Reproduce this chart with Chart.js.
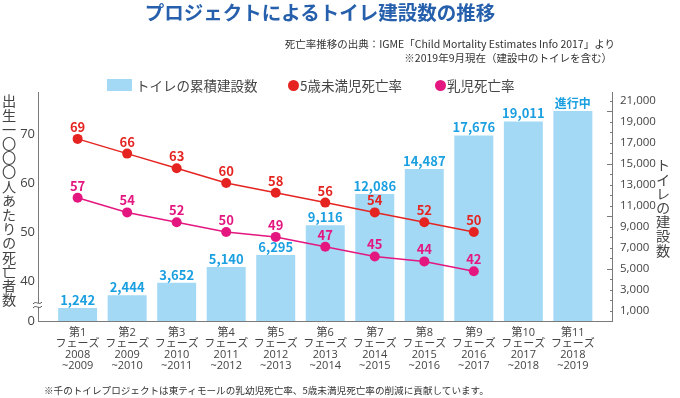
<!DOCTYPE html>
<html lang="ja">
<head>
<meta charset="utf-8">
<script src="https://cdn.jsdelivr.net/npm/chart.js@4.4.1/dist/chart.umd.min.js"></script>
<style>
  html, body { margin: 0; padding: 0; background: #fff; }
  body { width: 680px; height: 398px; position: relative; overflow: hidden;
         font-family: "Noto Sans CJK JP", "Noto Sans", sans-serif; color: #444; }
  #chart { position: absolute; left: 0; top: 0; }
  .abs { position: absolute; white-space: nowrap; }
  .title { left: 0; width: 640px; top: 0; text-align: center; font-size: 19.5px; line-height: 24px;
           font-weight: bold; color: #2660ac; }
  .src { right: 65px; font-size: 10.5px; line-height: 13px; color: #333; text-align: right; }
  .legend { top: 77px; font-size: 13.5px; line-height: 16px; color: #444; }
  .box { position: absolute; top: 79px; left: 107px; width: 25px; height: 12px; background: #a3d9f5; }
  .dot { position: absolute; top: 80px; width: 11px; height: 11px; border-radius: 50%; }
  .vtitle { writing-mode: vertical-rl; text-orientation: upright; font-size: 14.2px; line-height: 16px; color: #444; }
  .foot { left: 44px; top: 384px; font-size: 9.6px; line-height: 13px; color: #333; }
</style>
</head>
<body>
<canvas id="chart" width="680" height="398"></canvas>

<div class="abs title">プロジェクトによるトイレ建設数の推移</div>
<div class="abs src" style="top:37px">死亡率推移の出典：IGME「Child Mortality Estimates Info 2017」より</div>
<div class="abs src" style="top:51px; right:68px">※2019年9月現在（建設中のトイレを含む）</div>

<div class="box"></div>
<div class="abs legend" style="left:136px">トイレの累積建設数</div>
<div class="dot" style="left:288px; background:#e52421"></div>
<div class="abs legend" style="left:300px">5歳未満児死亡率</div>
<div class="dot" style="left:435px; background:#e4167f"></div>
<div class="abs legend" style="left:447px">乳児死亡率</div>

<div class="abs vtitle" style="left:1px; top:94px">出生一〇〇〇人あたりの死亡者数</div>
<div class="abs vtitle" style="left:655px; top:158px">トイレの建設数</div>

<div class="abs foot">※千のトイレプロジェクトは東ティモールの乳幼児死亡率、5歳未満児死亡率の削減に貢献しています。</div>

<script>
// Data
const phases = ['第1', '第2', '第3', '第4', '第5', '第6', '第7', '第8', '第9', '第10', '第11'];
const periods = [
  ['2008', '~2009'], ['2009', '~2010'], ['2010', '~2011'], ['2011', '~2012'],
  ['2012', '~2013'], ['2013', '~2014'], ['2014', '~2015'], ['2015', '~2016'],
  ['2016', '~2017'], ['2017', '~2018'], ['2018', '~2019']
];
const toilets = [1242, 2444, 3652, 5140, 6295, 9116, 12086, 14487, 17676, 19011, 20000];
const toiletNotes = [null, null, null, null, null, null, null, null, null, null, '進行中'];
const under5 = [69, 66, 63, 60, 58, 56, 54, 52, 50];
const infant = [57, 54, 52, 50, 49, 47, 45, 44, 42];
const leftTicks = [40, 50, 60, 70];
const rightTicks = [1000, 3000, 5000, 7000, 9000, 11000, 13000, 15000, 17000, 19000, 21000];

const BLUE_BAR = '#a3d9f5';
const BLUE_TXT = '#1a9fe0';
const RED = '#e52421';
const MAGENTA = '#e4167f';
const AXIS = '#7a7a7a';
const LEFT_MIN = 31.84;
const TICK_FONT = '"Open Sans", "Noto Sans CJK JP", sans-serif';

const xLabels = phases.map((p, i) => [p, 'フェーズ', periods[i][0], periods[i][1]]);
const toXY = arr => arr.map((v, i) => ({ x: i, y: v }));

// Value labels above bars and points
const valueLabels = {
  id: 'valueLabels',
  afterDatasetsDraw(chart) {
    const ctx = chart.ctx;
    ctx.save();
    ctx.textAlign = 'center';
    ctx.textBaseline = 'middle';
    chart.data.datasets.forEach((ds, di) => {
      const meta = chart.getDatasetMeta(di);
      meta.data.forEach((el, i) => {
        if (ds.type === 'bar') {
          const note = toiletNotes[i];
          ctx.font = note ? 'bold 12px "Noto Sans CJK JP"' : 'bold 13px "Noto Sans CJK JP"';
          ctx.fillStyle = BLUE_TXT;
          ctx.fillText(note || toilets[i].toLocaleString('en-US'), el.x, el.y - 8);
        } else {
          ctx.font = 'bold 13px "Noto Sans CJK JP"';
          ctx.fillStyle = ds.borderColor;
          ctx.fillText(ds.data[i].y, el.x, el.y - 12);
        }
      });
    });
    ctx.restore();
  }
};

// Axis break on the left axis and inward tick marks on the right axis
const axisExtras = {
  id: 'axisExtras',
  afterDraw(chart) {
    const ctx = chart.ctx;
    const area = chart.chartArea;
    const y2 = chart.scales.y2;
    ctx.save();
    ctx.strokeStyle = AXIS;
    ctx.lineWidth = 1;
    for (let v = 1000; v <= 21000; v += 1000) {
      const py = Math.round(y2.getPixelForValue(v)) + 0.5;
      const len = v % 5000 === 0 ? 5 : 2;
      ctx.beginPath();
      ctx.moveTo(area.right, py);
      ctx.lineTo(area.right - len, py);
      ctx.stroke();
    }
    // break mark
    const bx = area.left, by = 305;
    ctx.fillStyle = '#fff';
    ctx.fillRect(bx - 3, by - 2, 6, 4);
    ctx.strokeStyle = '#555';
    [-2, 2].forEach(off => {
      ctx.beginPath();
      ctx.moveTo(bx - 5, by + off + 1);
      ctx.bezierCurveTo(bx - 2, by + off - 3, bx + 1, by + off + 3, bx + 4, by + off - 1);
      ctx.stroke();
    });
    ctx.restore();
  }
};

new Chart(document.getElementById('chart'), {
  type: 'bar',
  data: {
    datasets: [
      {
        type: 'line', label: '5歳未満児死亡率', data: toXY(under5), yAxisID: 'y',
        borderColor: RED, backgroundColor: RED, borderWidth: 1.5,
        pointRadius: 5, pointBorderWidth: 0, pointBackgroundColor: RED, order: 0
      },
      {
        type: 'line', label: '乳児死亡率', data: toXY(infant), yAxisID: 'y',
        borderColor: MAGENTA, backgroundColor: MAGENTA, borderWidth: 1.5,
        pointRadius: 5, pointBorderWidth: 0, pointBackgroundColor: MAGENTA, order: 0
      },
      {
        type: 'bar', label: 'トイレの累積建設数', data: toXY(toilets), yAxisID: 'y2',
        backgroundColor: BLUE_BAR, borderWidth: 0,
        barPercentage: 0.787, categoryPercentage: 1, order: 1
      }
    ]
  },
  options: {
    responsive: false,
    animation: false,
    layout: { padding: { top: 92, left: 0, right: 0, bottom: 0 } },
    plugins: { legend: { display: false }, tooltip: { enabled: false } },
    scales: {
      x: {
        type: 'linear', min: -0.8, max: 10.79, offset: false,
        afterBuildTicks: s => { s.ticks = phases.map((_, i) => ({ value: i })); },
        afterFit: s => { s.height = 77; },
        grid: { display: false, drawTicks: false, offset: false },
        border: { display: true, color: AXIS, width: 1 },
        ticks: {
          autoSkip: false, maxRotation: 0, padding: 6, color: '#444',
          font: { family: TICK_FONT, size: 11, lineHeight: 1.0 },
          callback: v => xLabels[v]
        }
      },
      y: {
        position: 'left', min: LEFT_MIN, max: 78.57,
        afterBuildTicks: s => { s.ticks = [LEFT_MIN].concat(leftTicks).map(v => ({ value: v })); },
        afterFit: s => { s.width = 38; },
        grid: { display: false, drawTicks: false },
        border: { display: true, color: AXIS, width: 1 },
        ticks: {
          padding: 3, color: '#444',
          font: { family: TICK_FONT, size: 13 },
          callback: v => (v < 35 ? '0' : v)
        }
      },
      y2: {
        position: 'right', min: 0, max: 21810,
        afterBuildTicks: s => { s.ticks = rightTicks.map(v => ({ value: v })); },
        afterFit: s => { s.width = 68; },
        grid: { display: false, drawTicks: false },
        border: { display: true, color: AXIS, width: 1 },
        ticks: {
          padding: 8, color: '#444',
          font: { family: TICK_FONT, size: 11.5 },
          callback: v => v.toLocaleString('en-US')
        }
      }
    }
  },
  plugins: [valueLabels, axisExtras]
});
</script>
</body>
</html>
